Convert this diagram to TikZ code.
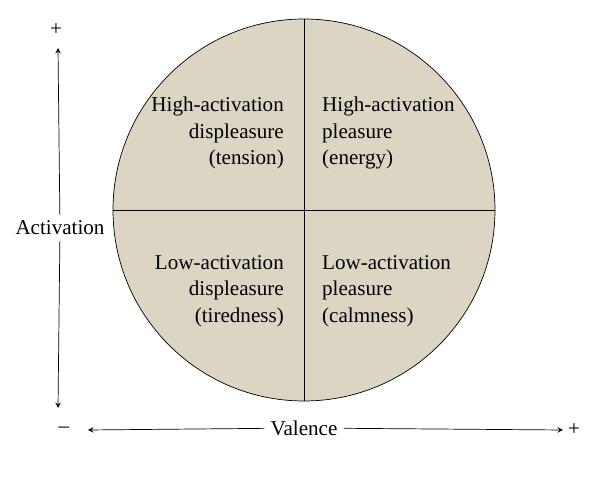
\documentclass[tikz,border=0pt]{standalone}
\usepackage{fontspec}
\setmainfont{Liberation Serif}
\begin{document}
\begin{tikzpicture}[x=0.02cm, y=-0.02cm, >=stealth, font=\fontsize{12}{15}\selectfont]
        \useasboundingbox (0,0) rectangle (600,482);
        \definecolor{disc}{RGB}{221,213,196}
        % Circle and quadrants
        \coordinate (c) at (304,210);
        \fill[disc] (c) circle[x radius=191, y radius=191];
        \draw (c) circle[x radius=191, y radius=191];
        \coordinate (top) at (304,19);
        \coordinate (bot) at (304,401);
        \coordinate (lft) at (113,210);
        \coordinate (rgt) at (495,210);
        \draw (top) -- (bot);
        \draw (lft) -- (rgt);
        % Quadrant labels
        \node[anchor=east, align=right] (hd) at (290,133) {High-activation\\displeasure\\(tension)};
        \node[anchor=west, align=left] (hp) at (316,133) {High-activation\\pleasure\\(energy)};
        \node[anchor=east, align=right] (ld) at (290,291) {Low-activation\\displeasure\\(tiredness)};
        \node[anchor=west, align=left] (lp) at (316,291) {Low-activation\\pleasure\\(calmness)};
        % Axes
        \node (aplus) at (56,30) {+};
        \node (act) at (60,228) {Activation};
        \coordinate (atop) at (58,48);
        \coordinate (abot) at (58,408);
        \draw[->] (act) -- (atop);
        \draw[->] (act) -- (abot);
        \node (vminus) at (64,430) {--};
        \node (val) at (304,428) {Valence};
        \node (vplus) at (574,430) {+};
        \coordinate (vl) at (88,430);
        \coordinate (vr) at (563,430);
        \draw[->] (val) -- (vl);
        \draw[->] (val) -- (vr);
\end{tikzpicture}
\end{document}
